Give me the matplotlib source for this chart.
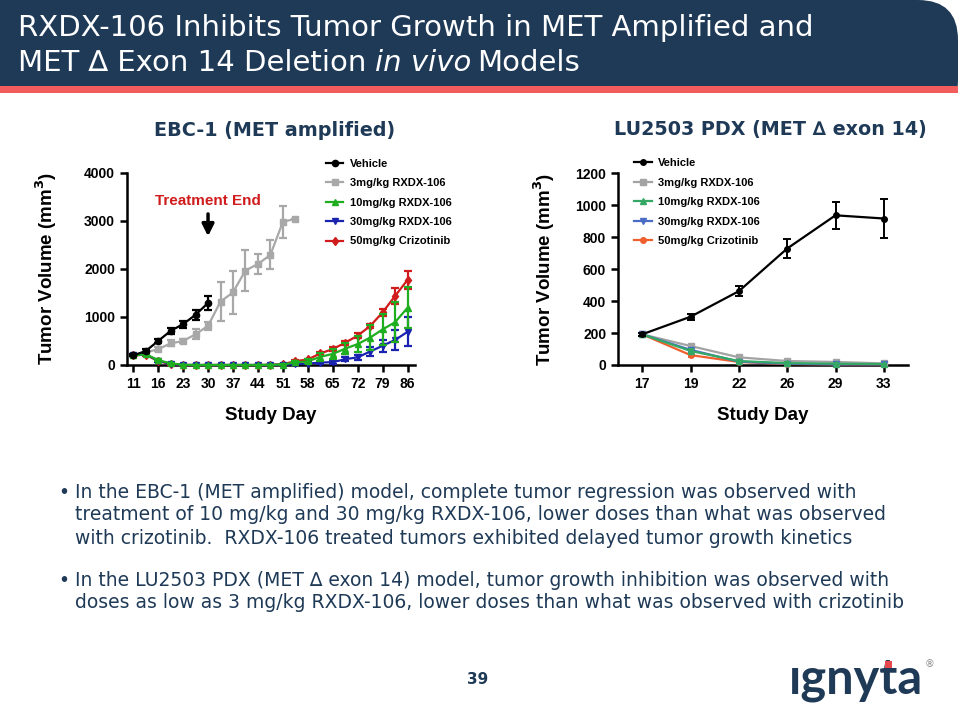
import numpy as np
import matplotlib
matplotlib.use("Agg")
from matplotlib import pyplot as plt
from matplotlib.patches import Rectangle, FancyBboxPatch
from matplotlib.lines import Line2D

navy = "#1f3a57"

# EBC-1 (MET amplified) data
ebc_days = [11, 13, 16, 19, 23, 26, 30, 33, 37, 40, 44, 47, 51, 54, 58, 61, 65, 68, 72, 75, 79, 82, 86]
ebc_vehicle = [200, 290, 500, 710, 850, 1045, 1290]
ebc_vehicle_err = [20, 40, 50, 70, 70, 100, 140]
ebc_3mg = [200, 260, 330, 450, 500, 640, 815, 1320, 1510, 1965, 2100, 2290, 2975, 3045]
ebc_3mg_err = [20, 30, 40, 60, 50, 100, 80, 410, 450, 420, 210, 300, 330, 0]
ebc_10mg = [200, 225, 100, 35, 5, 0, 0, 0, 0, 0, 0, 5, 10, 55, 75, 170, 230, 340, 435, 570, 740, 890, 1190]
ebc_10mg_err = [10, 20, 20, 10, 0, 0, 0, 0, 0, 0, 0, 0, 10, 20, 40, 80, 100, 120, 160, 260, 320, 420, 430]
ebc_30mg = [200, 220, 90, 25, 0, 0, 0, 0, 0, 0, 0, 0, 5, 20, 30, 50, 60, 120, 160, 280, 400, 520, 690]
ebc_30mg_err = [10, 20, 20, 10, 0, 0, 0, 0, 0, 0, 0, 0, 5, 10, 10, 20, 30, 40, 50, 90, 130, 210, 300]
ebc_criz = [200, 215, 80, 20, 0, 0, 0, 0, 0, 0, 0, 5, 15, 80, 115, 240, 330, 465, 610, 810, 1095, 1435, 1770]
ebc_criz_err = [10, 20, 20, 10, 0, 0, 0, 0, 0, 0, 0, 0, 10, 20, 20, 30, 40, 40, 50, 50, 70, 160, 185]

# LU2503 PDX (MET exon 14) data
lu_days = [17, 19, 22, 26, 29, 33]
lu_vehicle = [192, 302, 462, 729, 937, 917]
lu_vehicle_err = [10, 20, 30, 62, 85, 120]
lu_3mg = [192, 119, 48, 25, 19, 10]
lu_10mg = [192, 88, 25, 12, 8, 6]
lu_30mg = [192, 95, 21, 8, 4, 4]
lu_criz = [192, 62, 19, 6, 4, 4]
lu_small_err = [8, 10, 8, 5, 3, 3]

labels = ["Vehicle", "3mg/kg RXDX-106", "10mg/kg RXDX-106", "30mg/kg RXDX-106", "50mg/kg Crizotinib"]

fig = plt.figure(figsize=(9.6, 7.2), dpi=100)

# page decorations in pixel coordinates
bg = fig.add_axes([0, 0, 1, 1], zorder=0)
bg.set_xlim(0, 960)
bg.set_ylim(720, 0)
bg.axis("off")
bg.add_patch(Rectangle((0, 0), 900, 86, color=navy, lw=0))
bg.add_patch(FancyBboxPatch((860, 0), 98, 120, boxstyle="round,pad=0,rounding_size=40",
                            color=navy, lw=0))
bg.add_patch(Rectangle((0, 86), 958, 7, color="#f25c5c", lw=0))
bg.add_patch(Rectangle((0, 93), 960, 40, color="white", lw=0))

title_font = "DejaVu Sans"
bg.text(18, 28, "RXDX-106 Inhibits Tumor Growth in MET Amplified and", color="white",
        fontsize=21, family=title_font, va="center")
t1 = bg.text(18, 63, "MET \u2206 Exon 14 Deletion", color="white",
             fontsize=21, family=title_font, va="center")
t2 = bg.annotate("in vivo", xy=(1, 0.5), xycoords=t1, xytext=(6, 0), textcoords="offset points",
                 color="white", style="italic", fontsize=21, family=title_font, va="center")
bg.annotate("Models", xy=(1, 0.5), xycoords=t2, xytext=(4, 0), textcoords="offset points",
            color="white", fontsize=21, family=title_font, va="center")

bg.text(275, 130, "EBC-1 (MET amplified)", color=navy, fontsize=13.8, fontweight="bold",
        family=title_font, ha="center", va="center")
bg.text(770, 130, "LU2503 PDX (MET \u2206 exon 14)", color=navy, fontsize=13.8, fontweight="bold",
        family=title_font, ha="center", va="center")

bullets = [
    (492, "In the EBC-1 (MET amplified) model, complete tumor regression was observed with"),
    (515, "treatment of 10 mg/kg and 30 mg/kg RXDX-106, lower doses than what was observed"),
    (538, "with crizotinib.  RXDX-106 treated tumors exhibited delayed tumor growth kinetics"),
    (580, "In the LU2503 PDX (MET \u2206 exon 14) model, tumor growth inhibition was observed with"),
    (602, "doses as low as 3 mg/kg RXDX-106, lower doses than what was observed with crizotinib"),
]
for y, line in bullets:
    bg.text(75, y, line, color=navy, fontsize=13.5, family=title_font, va="center")
for y in [492, 580]:
    bg.text(58, y, "\u2022", color=navy, fontsize=13.5, va="center")

bg.text(478, 679, "39", color=navy, fontsize=11, fontweight="bold", ha="center", va="center")
bg.text(856, 680, "\u0131gnyta", color=navy, fontsize=35, fontweight="bold", family="Lato",
        ha="center", va="center")
bg.add_patch(Rectangle((885, 661), 7, 7, color="#e8484d", lw=0, zorder=5))
bg.text(930, 664, "\u00ae", color="#888888", fontsize=7, ha="center", va="center")

tick_font = {"family": "Liberation Sans", "weight": "bold"}


def style(ax):
    for s in ["top", "right"]:
        ax.spines[s].set_visible(False)
    for s in ["left", "bottom"]:
        ax.spines[s].set_linewidth(1.8)
    ax.tick_params(width=1.8, length=5, labelsize=10)
    for t in ax.get_xticklabels() + ax.get_yticklabels():
        t.set_fontfamily("Liberation Sans")
        t.set_fontweight("bold")
    ax.set_ylabel("Tumor Volume (mm$^\\mathbf{3}$)", fontsize=13.5, **tick_font)
    ax.set_xlabel("Study Day", fontsize=13.5, labelpad=12, **tick_font)


leg_prop = {"family": "Liberation Sans", "weight": "bold", "size": 8}

# left chart
ax1 = fig.add_axes([127 / 960, 1 - 365 / 720, 288 / 960, (365 - 172.7) / 720], zorder=2)
ax1.patch.set_alpha(0)
x1 = np.arange(len(ebc_days))
series1 = [
    (ebc_vehicle, ebc_vehicle_err, "black", "o"),
    (ebc_3mg, ebc_3mg_err, "#a8a8a8", "s"),
    (ebc_10mg, ebc_10mg_err, "#1fae1f", "^"),
    (ebc_30mg, ebc_30mg_err, "#1a22b0", "v"),
    (ebc_criz, ebc_criz_err, "#d01c1c", "d"),
]
zorders1 = [8, 3, 7, 6, 5]
handles = []
for (vals, err, c, m), z in zip(series1, zorders1):
    xs = x1[:len(vals)]
    ax1.errorbar(xs, vals, yerr=err, color=c, marker=m, ms=4.5, lw=1.6, elinewidth=1.6,
                 capsize=3, capthick=1.6, clip_on=False, zorder=z)
    handles.append(Line2D([], [], color=c, marker=m, ms=4.5, lw=1.6))
ax1.set_xlim(-0.5, 22.6)
ax1.set_ylim(0, 4000)
ax1.set_yticks([0, 1000, 2000, 3000, 4000])
ax1.set_xticks(x1[::2])
ax1.set_xticklabels(ebc_days[::2])
style(ax1)
ax1.yaxis.set_label_coords(-0.235, 0.5)
ax1.legend(handles, labels, loc="upper left", bbox_to_anchor=(0.655, 1.125), frameon=False,
           prop=leg_prop, handlelength=1.6, handletextpad=0.6, labelspacing=0.85)
ax1.text(6, 3420, "Treatment End", color="#d01c1c", fontsize=11, ha="center", va="center",
         **tick_font)
ax1.annotate("", xy=(6, 2620), xytext=(6, 3200),
             arrowprops=dict(arrowstyle="-|>,head_width=0.35,head_length=0.7", color="black", lw=2.5))

# right chart
ax2 = fig.add_axes([618 / 960, 1 - 365 / 720, 290 / 960, (365 - 173.3) / 720], zorder=2)
ax2.patch.set_alpha(0)
x2 = np.arange(len(lu_days))
series2 = [
    (lu_vehicle, lu_vehicle_err, "black", "o"),
    (lu_3mg, lu_small_err, "#a3a3a3", "s"),
    (lu_10mg, lu_small_err, "#35a865", "^"),
    (lu_30mg, lu_small_err, "#4a6cc4", "v"),
    (lu_criz, lu_small_err, "#f0602e", "o"),
]
zorders2 = [9, 5, 7, 6, 4]
handles2 = []
for (vals, err, c, m), z in zip(series2, zorders2):
    ax2.errorbar(x2, vals, yerr=err, color=c, marker=m, ms=4, lw=1.6, elinewidth=1.4,
                 capsize=3 if c == "black" else 2, capthick=1.4, clip_on=False, zorder=z)
    handles2.append(Line2D([], [], color=c, marker=m, ms=4, lw=1.6))
ax2.set_xlim(-0.5, 5.5)
ax2.set_ylim(0, 1200)
ax2.set_yticks(range(0, 1201, 200))
ax2.set_xticks(x2)
ax2.set_xticklabels(lu_days)
style(ax2)
ax2.yaxis.set_label_coords(-0.21, 0.5)
ax2.legend(handles2, labels, loc="upper left", bbox_to_anchor=(0.02, 1.13), frameon=False,
           prop=leg_prop, handlelength=1.6, handletextpad=0.6, labelspacing=0.85)

fig.savefig("out.png", dpi=100)
